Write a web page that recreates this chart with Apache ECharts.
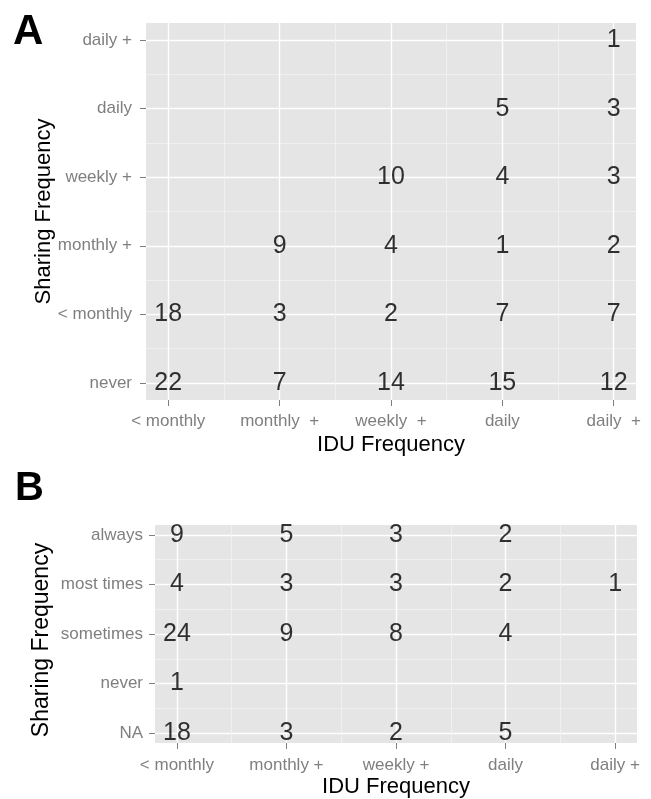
<!DOCTYPE html>
<html>
<head>
<meta charset="utf-8">
<script src="https://cdn.jsdelivr.net/npm/echarts@6/dist/echarts.min.js"></script>
<style>
html,body{margin:0;padding:0;background:#fff;}
#chart{width:651px;height:799px;}
</style>
</head>
<body>
<div id="chart"></div>
<script>
// Panel A
const xCatsA = ['< monthly', 'monthly  +', 'weekly  +', 'daily', 'daily  +'];
const yCatsA = ['never', '< monthly', 'monthly +', 'weekly +', 'daily', 'daily +'];
// rows follow yCatsA, columns follow xCatsA
const countsA = [
  [22, 7, 14, 15, 12],
  [18, 3, 2, 7, 7],
  [null, 9, 4, 1, 2],
  [null, null, 10, 4, 3],
  [null, null, null, 5, 3],
  [null, null, null, null, 1]
];
// Panel B
const xCatsB = ['< monthly', 'monthly +', 'weekly +', 'daily', 'daily +'];
const yCatsB = ['NA', 'never', 'sometimes', 'most times', 'always'];
const countsB = [
  [18, 3, 2, 5, null],
  [1, null, null, null, null],
  [24, 9, 8, 4, null],
  [4, 3, 3, 2, 1],
  [9, 5, 3, 2, null]
];
const xTitle = 'IDU Frequency';
const yTitle = 'Sharing Frequency';

function toData(counts) {
  const out = [];
  counts.forEach((row, yi) => row.forEach((v, xi) => { if (v !== null) out.push([xi, yi, v]); }));
  return out;
}
function idx(n) { return Array.from({length: n}, (_, i) => i); }
function mids(n) { return Array.from({length: n - 1}, (_, i) => i + 0.5); }

const FONT = 'Liberation Sans';
const tickColor = '#7f7f7f';
const labelColor = '#7f7f7f';

function minorAxis(grid, n, pad, pos) {
  return {
    type: 'value', gridIndex: grid, position: pos, min: -pad, max: n - 1 + pad,
    axisLine: {show: false, onZero: false}, axisLabel: {show: false},
    axisTick: {show: false, customValues: mids(n)},
    splitLine: {show: true, lineStyle: {color: '#f2f2f2', width: 0.8}}
  };
}
function majorAxis(grid, cats, pad, pos, name, margin, nameGap, nameSize, namePad) {
  const n = cats.length;
  return {
    type: 'value', gridIndex: grid, position: pos, min: -pad, max: n - 1 + pad,
    name: name, nameLocation: 'middle', nameGap: nameGap, nameMoveOverlap: false,
    nameTextStyle: {color: '#000', fontSize: nameSize, fontFamily: FONT, padding: namePad},
    axisLine: {show: false, onZero: false},
    axisTick: {show: true, inside: false, length: 6, customValues: idx(n), lineStyle: {color: tickColor, width: 1}},
    axisLabel: {show: true, customValues: idx(n), margin: margin, color: labelColor, fontSize: 17, fontFamily: FONT,
      formatter: v => cats[Math.round(v)]},
    splitLine: {show: true, lineStyle: {color: '#ffffff', width: 1.4}}
  };
}

const chart = echarts.init(document.getElementById('chart'), null, {renderer: 'canvas'});
const numLabel = {show: true, position: 'inside', formatter: p => String(p.value[2]),
  color: '#000', fontSize: 25, fontFamily: FONT};

chart.setOption({
  animation: false,
  backgroundColor: '#ffffff',
  grid: [
    {left: 146, top: 23, width: 490, height: 377, show: true, backgroundColor: '#e5e5e5', borderWidth: 0},
    {left: 155, top: 525, width: 482, height: 219, show: true, backgroundColor: '#e5e5e5', borderWidth: 0}
  ],
  xAxis: [
    minorAxis(0, xCatsA.length, 0.2, 'bottom'),
    majorAxis(0, xCatsA, 0.2, 'bottom', xTitle, 13, 34, 22, 0),
    minorAxis(1, xCatsB.length, 0.2, 'bottom'),
    majorAxis(1, xCatsB, 0.2, 'bottom', xTitle, 14, 33, 22, 0)
  ],
  yAxis: [
    minorAxis(0, yCatsA.length, 0.25, 'left'),
    majorAxis(0, yCatsA, 0.25, 'left', yTitle, 14, 91, 22, 0),
    minorAxis(1, yCatsB.length, 0.2, 'left'),
    majorAxis(1, yCatsB, 0.2, 'left', yTitle, 12, 102, 23, [0, 12, 0, 0])
  ],
  series: [
    {type: 'scatter', xAxisIndex: 1, yAxisIndex: 1, data: toData(countsA), symbolSize: 10,
      itemStyle: {color: 'rgba(0,0,0,0)'}, label: numLabel, emphasis: {disabled: true}, silent: true},
    {type: 'scatter', xAxisIndex: 3, yAxisIndex: 3, data: toData(countsB), symbolSize: 10,
      itemStyle: {color: 'rgba(0,0,0,0)'}, label: numLabel, emphasis: {disabled: true}, silent: true}
  ],
  graphic: [
    {type: 'text', left: 13, top: 11, style: {text: 'A', fontSize: 42, fontWeight: 'bold', fontFamily: FONT, fill: '#000'}},
    {type: 'text', left: 15, top: 469, style: {text: 'B', fontSize: 40, fontWeight: 'bold', fontFamily: FONT, fill: '#000'}}
  ]
});
</script>
</body>
</html>
